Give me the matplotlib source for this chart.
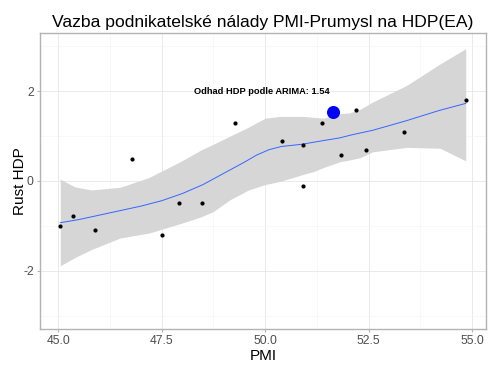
import matplotlib
matplotlib.use("Agg")
import matplotlib.pyplot as plt
from matplotlib.ticker import MultipleLocator

plt.rcParams['font.family'] = ['Liberation Sans', 'DejaVu Sans']
plt.rcParams['axes.unicode_minus'] = False

# observed PMI vs GDP growth
pmi = [45.05, 45.35, 45.88, 46.79, 47.51, 47.92, 48.48, 49.28, 50.41,
       50.91, 50.91, 51.38, 51.84, 52.20, 52.44, 53.37, 54.85]
hdp = [-1.00, -0.79, -1.09, 0.50, -1.20, -0.50, -0.50, 1.29, 0.90,
       0.80, -0.11, 1.30, 0.59, 1.59, 0.70, 1.10, 1.80]

# smoothed curve
fit_x = [45.05, 45.5, 46.0, 46.5, 47.0, 47.5, 48.0, 48.5, 49.0, 49.5, 49.8,
         50.1, 50.4, 50.9, 51.4, 51.8, 52.1, 52.6, 53.4, 54.2, 54.85]
fit_y = [-0.93, -0.86, -0.76, -0.66, -0.56, -0.44, -0.28, -0.08, 0.17, 0.42,
         0.58, 0.70, 0.77, 0.82, 0.90, 0.96, 1.03, 1.13, 1.34, 1.57, 1.73]

# confidence band
band_x = [45.05, 45.4, 45.8, 46.5, 47.2, 47.95, 48.45, 48.75, 49.15, 49.6,
          50.0, 50.36, 50.93, 51.17, 51.41, 51.81, 52.05, 52.3, 52.6, 53.42,
          54.23, 54.85]
band_lo = [-1.89, -1.71, -1.53, -1.27, -1.16, -0.95, -0.80, -0.68, -0.42, -0.20,
           -0.08, -0.01, 0.15, 0.21, 0.30, 0.43, 0.47, 0.52, 0.65, 0.75,
           0.73, 0.45]
band_hi = [0.04, -0.13, -0.20, -0.14, 0.08, 0.43, 0.69, 0.82, 1.00, 1.20,
           1.40, 1.44, 1.44, 1.42, 1.40, 1.50, 1.52, 1.60, 1.76, 2.13,
           2.61, 2.95]

# ARIMA estimate
odhad_pmi = 51.65
odhad_hdp = 1.54
odhad_text = "Odhad HDP podle ARIMA: 1.54"

fig = plt.figure(figsize=(5, 3.69), dpi=100)
ax = fig.add_axes([0.08, 0.1084, 0.892, 0.8022])

ax.fill_between(band_x, band_lo, band_hi, color='#D6D6D6', lw=0, zorder=2)
ax.plot(fit_x, fit_y, color='#3366FF', lw=0.7, zorder=3)
ax.scatter(pmi, hdp, s=4, color='black', zorder=4)
ax.scatter([odhad_pmi], [odhad_hdp], s=70, color='#0000FF', zorder=5)
ax.text(49.92, 2.0, odhad_text, ha='center', va='center', fontsize=6.7,
        fontweight='bold', color='black', zorder=6)

ax.set_xlim(44.56, 55.34)
ax.set_ylim(-3.3, 3.3)
ax.xaxis.set_major_locator(MultipleLocator(2.5))
ax.xaxis.set_minor_locator(MultipleLocator(1.25))
ax.yaxis.set_major_locator(MultipleLocator(2))
ax.yaxis.set_minor_locator(MultipleLocator(1))
ax.xaxis.set_major_formatter(matplotlib.ticker.FormatStrFormatter('%.1f'))

ax.grid(which='major', color='#E6E6E6', lw=0.6, zorder=0)
ax.grid(which='minor', color='#F3F3F3', lw=0.4, zorder=0)
ax.set_axisbelow(True)
for s in ax.spines.values():
    s.set_color('#B3B3B3')
    s.set_linewidth(1.0)
ax.tick_params(which='major', length=2.5, color='#B3B3B3', labelsize=8.7,
               labelcolor='#4D4D4D', pad=2)
ax.tick_params(which='minor', length=0)

ax.set_xlabel('PMI', fontsize=11, labelpad=1)
ax.set_ylabel('Rust HDP', fontsize=11)
ax.yaxis.set_label_coords(-0.03, 0.5)
ax.set_title('Vazba podnikatelské nálady PMI-Prumysl na HDP(EA)', fontsize=12.6, pad=4)

fig.savefig('out.png', dpi=100)
